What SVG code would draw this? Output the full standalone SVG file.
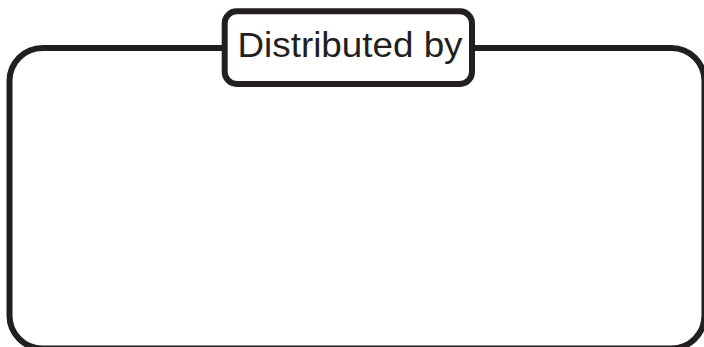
<svg xmlns="http://www.w3.org/2000/svg" width="704" height="347" viewBox="0 0 704 347">
<style>
.frame{fill:none;stroke:#231f20;stroke-width:6}
.label{fill:#fff;stroke:#231f20;stroke-width:6}
.t{font-family:"Liberation Sans",Arial,sans-serif;font-size:35px;fill:#231f20}
</style>
<rect width="704" height="347" fill="#fff"/>
<g id="frame">
<rect class="frame" x="9.5" y="48" width="695" height="300.5" rx="33" ry="33"/>
</g>
<g id="label">
<rect class="label" x="224.7" y="11.3" width="247.3" height="72.7" rx="12" ry="12"/>
<text class="t" x="237.5" y="56.7" textLength="225" lengthAdjust="spacingAndGlyphs">Distributed by</text>
</g>
</svg>
